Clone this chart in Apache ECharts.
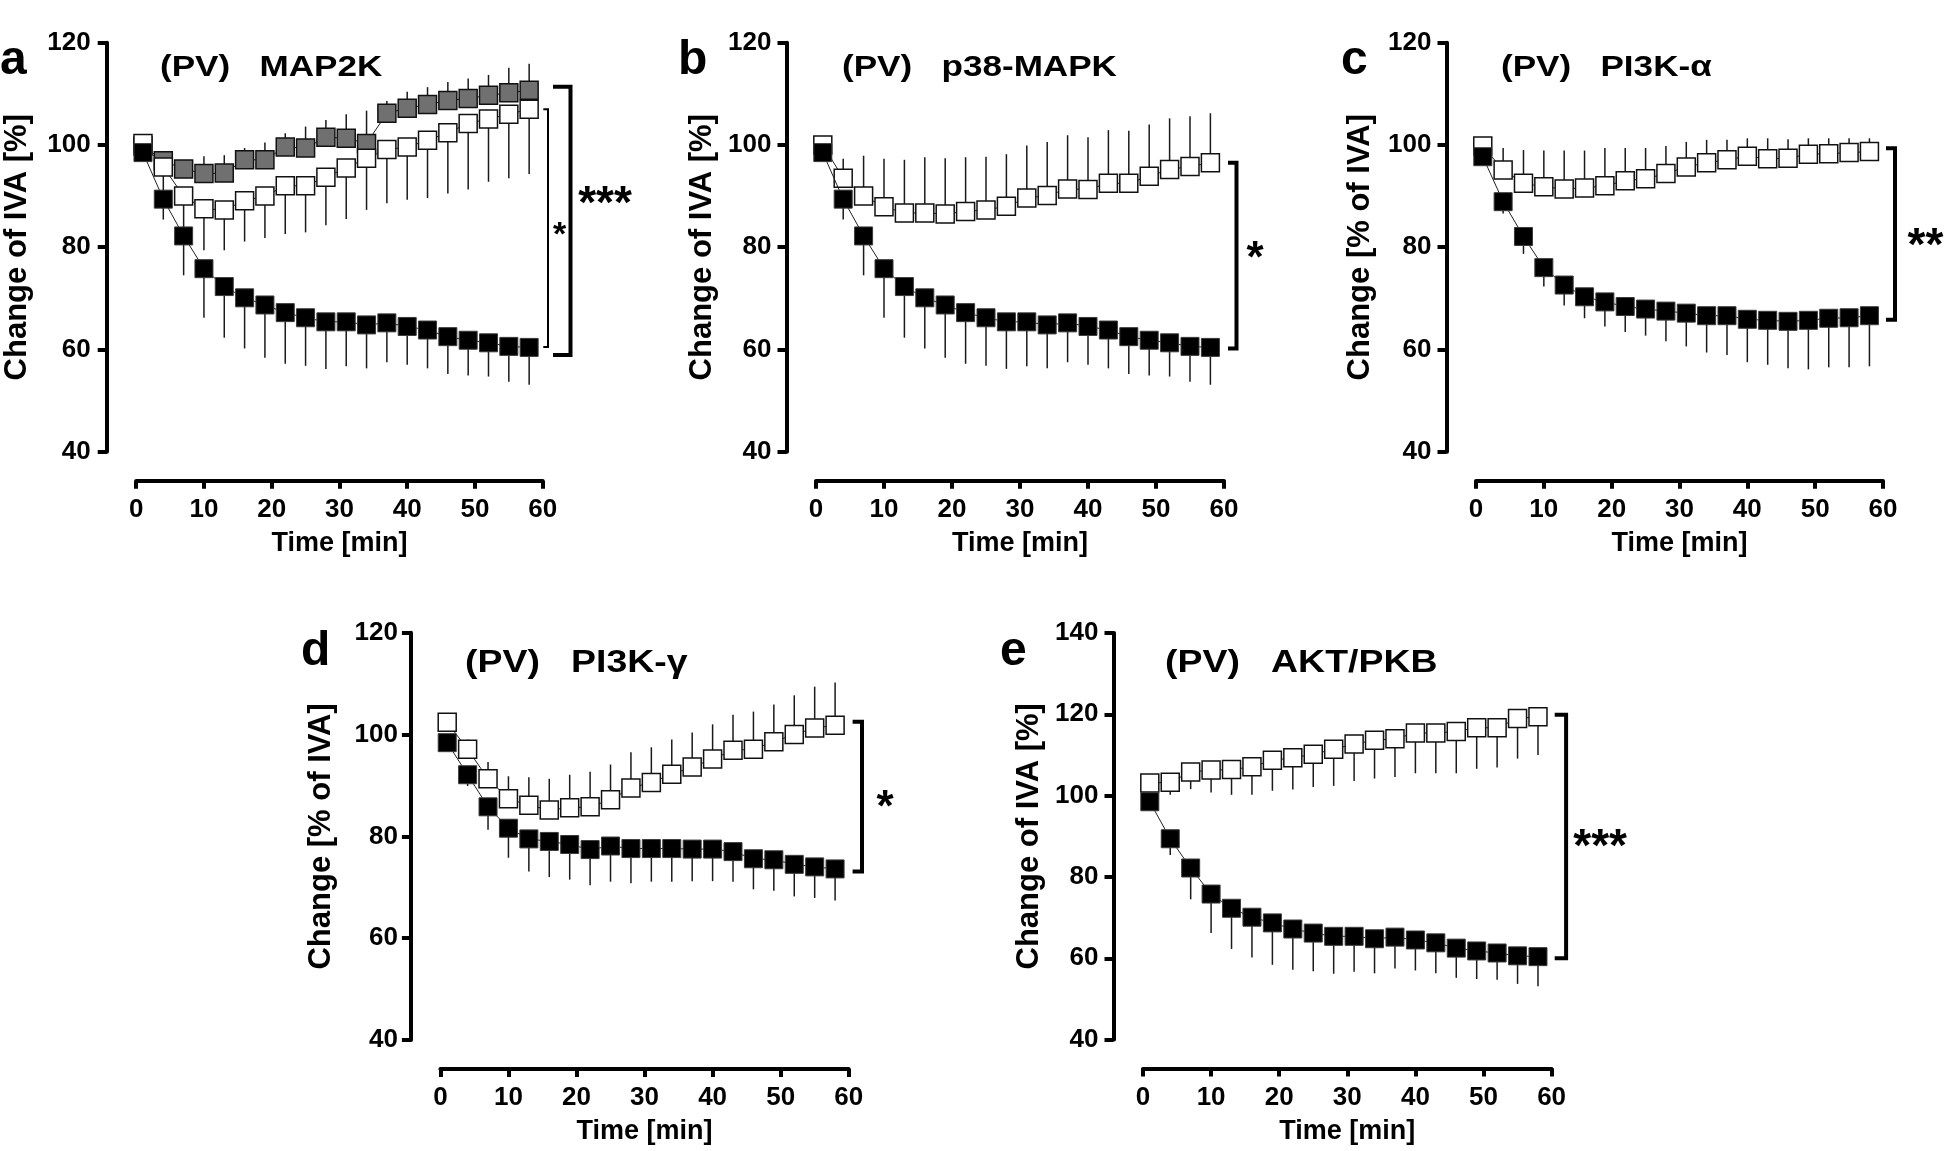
<!DOCTYPE html>
<html><head><meta charset="utf-8">
<script src="https://cdn.jsdelivr.net/npm/echarts/dist/echarts.min.js"></script>
<style>html,body{margin:0;padding:0;background:#fff}#c{width:1946px;height:1151px}</style>
</head><body><div id="c"></div>
<script>
// ---------------- data ----------------
const timeMin = [1,4,7,10,13,16,19,22,25,28,31,34,37,40,43,46,49,52,55,58];
const xTicks = [0,10,20,30,40,50,60];

// control (black squares), shared by panels a, b, e
const ctrlMean = [98.5,89.4,82.2,75.8,72.3,70.1,68.7,67.2,66.2,65.4,65.4,64.8,65.2,64.5,63.8,62.5,61.8,61.3,60.6,60.4];
const ctrlErr  = [1.0,4.0,7.7,9.6,10.0,9.9,10.3,10.0,9.4,9.2,8.7,8.5,7.7,7.5,7.5,7.3,6.9,6.6,6.9,7.3];

// a: MAP2K
const mapWhiteMean = [100.3,95.7,90.0,87.5,87.3,89.1,90.0,92.0,92.0,93.7,95.5,97.4,99.1,99.6,100.9,102.4,104.2,105.1,106.0,107.0];
const mapWhiteErr  = [1.0,5.0,8.5,8.1,7.9,8.0,8.2,9.4,9.1,9.4,10.0,10.1,10.5,10.3,11.3,11.9,12.9,12.3,12.5,12.7];
const mapGreyMean  = [99.8,96.9,95.3,94.4,94.5,97.1,97.1,99.6,99.4,101.5,101.3,100.3,106.2,107.2,107.9,108.7,109.1,109.7,110.2,110.7];
const mapGreyErr   = [1.0,1.5,1.5,3.4,3.5,2.3,3.4,2.7,4.2,3.4,4.7,6.4,2.4,3.2,3.4,3.6,3.9,4.0,4.9,5.2];
const bracketsA    = [[111.4,58.9],[107.0,60.5]];
const starsA       = ['***','*'];

// b: p38-MAPK
const p38WhiteMean = [100.0,93.5,90.0,87.9,86.7,86.7,86.5,87.0,87.3,88.0,89.6,90.1,91.4,91.3,92.5,92.5,93.9,95.2,95.8,96.5];
const p38WhiteErr  = [1.0,3.8,7.9,9.4,10.4,10.9,10.9,10.6,10.4,10.2,10.3,10.5,10.5,10.2,10.4,10.3,10.1,10.0,9.8,9.7];
const bracketsB    = [[96.5,60.2]];
const starsB       = ['*'];

// c: PI3K-alpha
const pi3kaBlackMean = [97.7,88.9,82.1,76.0,72.6,70.3,69.3,68.4,67.9,67.5,67.1,66.6,66.6,65.9,65.7,65.5,65.7,66.1,66.2,66.6];
const pi3kaBlackErr  = [1.0,2.3,3.4,3.7,4.0,4.2,4.8,5.0,5.2,5.9,6.5,7.2,7.7,8.4,8.7,9.2,9.6,9.6,9.7,9.9];
const pi3kaWhiteMean = [99.8,95.1,92.5,91.8,91.4,91.6,92.0,93.0,93.4,94.4,95.7,96.5,97.1,97.8,97.3,97.4,98.2,98.3,98.5,98.7];
const pi3kaWhiteErr  = [1.0,4.3,6.5,7.1,7.5,7.3,7.4,6.4,6.0,5.4,4.9,4.5,3.9,3.5,4.0,3.7,3.1,3.0,2.8,2.6];
const bracketsC      = [[99.35,65.8]];
const starsC         = ['**'];

// d: PI3K-gamma
const pi3kgBlackMean = [98.4,92.1,85.8,81.6,79.5,79.0,78.4,77.4,78.1,77.6,77.6,77.6,77.5,77.5,77.0,75.6,75.4,74.5,74.0,73.6];
const pi3kgBlackErr  = [1.0,2.2,4.5,5.8,6.4,7.0,6.9,7.0,7.0,6.8,6.5,6.5,6.3,6.3,5.9,6.0,6.1,6.3,6.1,6.2];
const pi3kgWhiteMean = [102.4,97.1,91.3,87.4,86.1,85.2,85.6,85.8,87.2,89.5,90.6,92.2,93.6,95.2,96.9,97.1,98.6,100.0,101.3,101.8];
const pi3kgWhiteErr  = [1.0,1.9,3.3,4.4,5.5,6.1,6.5,6.9,6.9,7.0,6.9,6.8,6.8,6.8,7.0,7.4,7.3,7.7,8.1,8.4];
const bracketsD      = [[102.5,73.1]];
const starsD         = ['*'];

// e: AKT/PKB
const aktWhiteMean = [103.1,103.3,105.8,106.3,106.4,107.1,108.7,109.3,110.2,111.4,112.7,113.6,114.0,115.4,115.4,115.8,116.7,116.7,119.0,119.4];
const aktWhiteErr  = [1.0,3.1,4.2,5.5,6.2,6.9,7.5,7.8,8.1,9.0,9.1,9.4,9.4,9.9,9.9,10.3,10.1,9.8,9.9,9.4];
const bracketsE    = [[119.9,60.0]];
const starsE       = ['***'];

const yTicksTop = [40,60,80,100,120];
const yTicksE   = [40,60,80,100,120,140];

// ---------------- layout / style ----------------
const FONT = '"Liberation Sans", Arial, Helvetica, sans-serif';
const BLACK = '#000', WHITE = '#fff', GREY = '#707070';

const panels = [
  { letter:'a', letterPos:[0,36.5], label:'(PV)   MAP2K', labelPos:[160,67.5], labelFs:30,
    grid:{left:136.2, top:42.7, width:406.5, height:409}, yTicks:yTicksTop, yName:'Change of IVA [%]', nameGap:74, lblMargin:16,
    groups:[
      {mean:mapGreyMean, err:mapGreyErr, dir:1, fill:GREY, z:2},
      {mean:mapWhiteMean, err:mapWhiteErr, dir:-1, fill:WHITE, z:3},
      {mean:ctrlMean, err:ctrlErr, dir:-1, fill:BLACK, z:4}],
    brackets:bracketsA, stars:starsA,
    bStyle:[{dx:27.8, arm:17.5, w:4, sdx:34.5, sdy:-15.8, fs:46},{dx:5.3, arm:4.7, w:2, sdx:11.5, sdy:7.8, fs:34}] },
  { letter:'b', letterPos:[678,36.5], label:'(PV)   p38-MAPK', labelPos:[842,67.5], labelFs:30,
    grid:{left:816, top:42.7, width:408, height:409}, yTicks:yTicksTop, yName:'Change of IVA [%]', nameGap:69, lblMargin:15,
    groups:[
      {mean:p38WhiteMean, err:p38WhiteErr, dir:1, fill:WHITE, z:3},
      {mean:ctrlMean, err:ctrlErr, dir:-1, fill:BLACK, z:4}],
    brackets:bracketsB, stars:starsB,
    bStyle:[{dx:12.5, arm:8.5, w:4, sdx:18.5, sdy:4.7, fs:44}] },
  { letter:'c', letterPos:[1341,36.5], label:'(PV)   PI3K-\u03b1', labelPos:[1501,67.5], labelFs:30,
    grid:{left:1476, top:42.7, width:407, height:409}, yTicks:yTicksTop, yName:'Change [% of IVA]', nameGap:71, lblMargin:15,
    groups:[
      {mean:pi3kaWhiteMean, err:pi3kaWhiteErr, dir:1, fill:WHITE, z:3},
      {mean:pi3kaBlackMean, err:pi3kaBlackErr, dir:-1, fill:BLACK, z:4}],
    brackets:bracketsC, stars:starsC,
    bStyle:[{dx:12, arm:9, w:4, sdx:30.5, sdy:12.9, fs:46}] },
  { letter:'d', letterPos:[301,628], label:'(PV)   PI3K-\u03b3', labelPos:[465,663], labelFs:32,
    grid:{left:440.4, top:632.7, width:408.3, height:407.3}, yTicks:yTicksTop, yName:'Change [% of IVA]', nameGap:74, lblMargin:13,
    groups:[
      {mean:pi3kgWhiteMean, err:pi3kgWhiteErr, dir:1, fill:WHITE, z:3},
      {mean:pi3kgBlackMean, err:pi3kgBlackErr, dir:-1, fill:BLACK, z:4}],
    brackets:bracketsD, stars:starsD,
    bStyle:[{dx:13.3, arm:9.4, w:4, sdx:23, sdy:12.2, fs:44}] },
  { letter:'e', letterPos:[1000,628], label:'(PV)   AKT/PKB', labelPos:[1165,663], labelFs:32,
    grid:{left:1143, top:633, width:408.6, height:406.6}, yTicks:yTicksE, yName:'Change of IVA [%]', nameGap:69, lblMargin:15,
    groups:[
      {mean:aktWhiteMean, err:aktWhiteErr, dir:-1, fill:WHITE, z:3},
      {mean:ctrlMean, err:ctrlErr, dir:-1, fill:BLACK, z:4}],
    brackets:bracketsE, stars:starsE,
    bStyle:[{dx:14.5, arm:11.4, w:4, sdx:34, sdy:12.3, fs:46}] }
];

const axisLineStyle = {color:BLACK, width:4};
const labelStyle = {color:BLACK, fontSize:26, fontWeight:'bold', fontFamily:FONT};

const grids = [], xAxes = [], yAxes = [], series = [], graphics = [];

panels.forEach((p, i) => {
  grids.push(Object.assign({containLabel:false}, p.grid));
  xAxes.push({
    type:'value', gridIndex:i, min:xTicks[0], max:xTicks[xTicks.length-1], interval:xTicks[1]-xTicks[0],
    position:'bottom', offset:29,
    axisLine:{show:true, onZero:false, lineStyle:axisLineStyle},
    axisTick:{show:true, length:8, inside:false, lineStyle:axisLineStyle},
    axisLabel:Object.assign({margin:16}, labelStyle),
    splitLine:{show:false},
    name:'Time [min]', nameLocation:'middle', nameGap:49,
    nameTextStyle:{color:BLACK, fontSize:27, fontWeight:'bold', fontFamily:FONT}
  });
  yAxes.push({
    type:'value', gridIndex:i, min:p.yTicks[0], max:p.yTicks[p.yTicks.length-1], interval:p.yTicks[1]-p.yTicks[0],
    position:'left', offset:29.5,
    axisLine:{show:true, onZero:false, lineStyle:axisLineStyle},
    axisTick:{show:true, length:9, inside:false, lineStyle:axisLineStyle},
    axisLabel:Object.assign({margin:p.lblMargin}, labelStyle),
    splitLine:{show:false},
    name:p.yName, nameLocation:'middle', nameRotate:90, nameGap:p.nameGap,
    nameTextStyle:{color:BLACK, fontSize:31, fontWeight:'bold', fontFamily:FONT}
  });

  // error bars (one-sided)
  p.groups.forEach(g => {
    series.push({
      type:'custom', xAxisIndex:i, yAxisIndex:i, z:1, silent:true, animation:false,
      data: timeMin.map((t,k) => [t, g.mean[k], g.mean[k] + g.dir*g.err[k]]),
      encode:{x:0, y:[1,2]},
      renderItem:(params, api) => {
        const a = api.coord([api.value(0), api.value(1)]);
        const b = api.coord([api.value(0), api.value(2)]);
        return {type:'line', shape:{x1:a[0], y1:a[1], x2:b[0], y2:b[1]},
                style:{stroke:'#1a1a1a', lineWidth:1.5}};
      }
    });
  });
  // mean lines with square markers
  p.groups.forEach(g => {
    series.push({
      type:'line', xAxisIndex:i, yAxisIndex:i, z:g.z, animation:false, silent:true,
      data: timeMin.map((t,k) => [t, g.mean[k]]),
      symbol:'rect', symbolSize:18, showSymbol:true,
      itemStyle:{color:g.fill, borderColor: g.fill===BLACK ? '#3a3a3a' : '#111', borderWidth: g.fill===BLACK ? 1 : 1.5},
      lineStyle:{color:'#222', width:1}
    });
  });
  // significance brackets
  p.brackets.forEach((br, j) => {
    const s = p.bStyle[j];
    const star = p.stars[j];
    series.push({
      type:'custom', xAxisIndex:i, yAxisIndex:i, z:6, clip:false, silent:true, animation:false,
      data:[[xTicks[xTicks.length-1], br[0], br[1]]],
      encode:{x:0, y:[1,2]},
      renderItem:(params, api) => {
        const pt = api.coord([api.value(0), api.value(1)]);
        const pb = api.coord([api.value(0), api.value(2)]);
        const x = pt[0] + s.dx;
        return {type:'group', children:[
          {type:'polyline', shape:{points:[[x - s.arm, pt[1]], [x, pt[1]], [x, pb[1]], [x - s.arm, pb[1]]]},
           style:{stroke:BLACK, lineWidth:s.w, fill:null}},
          {type:'text', style:{text:star, x:x + s.sdx, y:(pt[1]+pb[1])/2 + s.sdy,
            align:'center', verticalAlign:'middle', fill:BLACK,
            font:'bold ' + s.fs + 'px ' + FONT}}
        ]};
      }
    });
  });

  graphics.push({type:'text', x:p.letterPos[0], y:p.letterPos[1], silent:true,
    style:{text:p.letter, fill:BLACK, font:'bold 48px ' + FONT, align:'left', verticalAlign:'alphabetic'}});
  graphics.push({type:'text', x:p.labelPos[0], y:p.labelPos[1], scaleX:1.17, silent:true,
    style:{text:p.label, fill:BLACK, font:'bold ' + p.labelFs + 'px ' + FONT, align:'left', verticalAlign:'middle'}});
});

const chart = echarts.init(document.getElementById('c'), null, {renderer:'canvas'});
chart.setOption({
  backgroundColor:'#fff', animation:false,
  grid:grids, xAxis:xAxes, yAxis:yAxes, series:series, graphic:graphics
});
</script>
</body></html>
